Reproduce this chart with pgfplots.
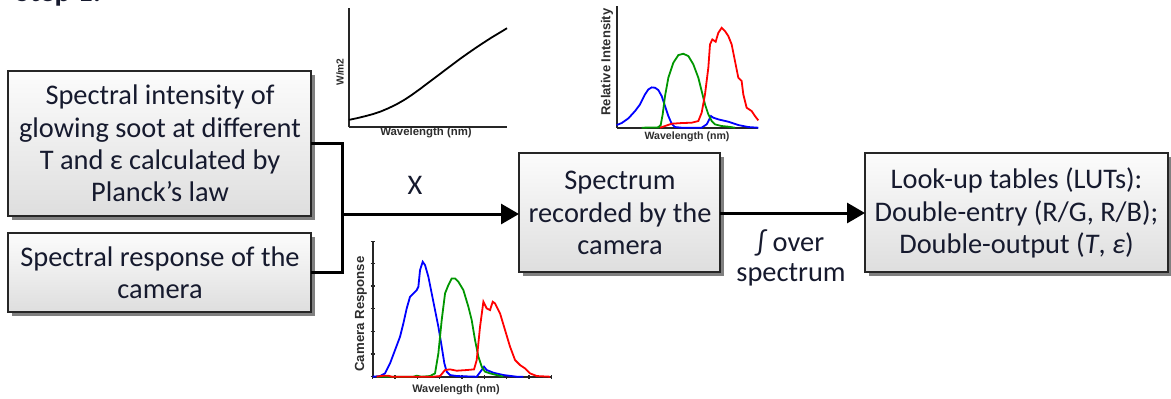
\documentclass[border=0pt]{standalone}
\usepackage{fontspec}
\setmainfont{Carlito}
\newfontfamily\plotfont{Liberation Sans}
\usepackage{pgfplots}
\pgfplotsset{compat=1.18}
\usetikzlibrary{arrows.meta}

\definecolor{txt}{RGB}{22,26,46}
\definecolor{boxtop}{RGB}{252,252,252}
\definecolor{boxbot}{RGB}{222,222,222}
\definecolor{shadowgray}{RGB}{128,128,128}
\definecolor{cblue}{RGB}{0,0,255}
\definecolor{cgreen}{RGB}{0,150,0}
\definecolor{cred}{RGB}{255,0,0}
\definecolor{lbl}{RGB}{45,45,45}

% box with a drop shadow and a light vertical gradient: x1,y1,x2,y2
\newcommand{\flowbox}[4]{%
  \fill[shadowgray] (#1+4,#2+4) rectangle (#3+4,#4+4);
  \shade[top color=boxtop,bottom color=boxbot] (#1,#2) rectangle (#3,#4);
  \draw[line width=0.8pt,black!85] (#1,#2) rectangle (#3,#4);
}

\pgfplotsset{
  mini/.style={
    scale only axis,
    anchor=south west,
    axis lines=left,
    axis line style={-,line width=0.9pt,black!85},
    xtick=\empty, ytick=\empty,
    clip=false,
  },
  curve/.style={line width=0.9pt,no marks},
}
\newcommand{\lblfont}[1]{\plotfont\bfseries\fontsize{#1}{#1}\selectfont}

\begin{document}
\begin{tikzpicture}
% drawing units: 1 unit = 0.5pt, y grows downwards
\begin{scope}[x=0.5pt,y=-0.5pt]
\useasboundingbox (0,0) rectangle (1171,398);

% heading, cut by the top edge
\node[anchor=base west,inner sep=0pt,text=txt,font=\fontsize{15}{17}\selectfont\bfseries] at (15,1) {Step 1:};

% axis labels
\node[font=\lblfont{5.7},text=lbl] at (426,133) {Wavelength (nm)};
\node[font=\lblfont{5.1},text=lbl,rotate=90] at (340,72) {W/m2};
\node[font=\lblfont{5.3},text=lbl] at (687,137) {Wavelength (nm)};
\node[font=\lblfont{6.5},text=lbl,rotate=90] at (607,62) {Relative Intensity};
\node[font=\lblfont{5.45},text=lbl] at (456,390) {Wavelength (nm)};
\node[font=\lblfont{6.6},text=lbl,rotate=90] at (361,314) {Camera Response};

% ---------- boxes ----------
\flowbox{8}{71}{311}{216}
\flowbox{8}{233}{311}{312}
\flowbox{519}{153}{720}{272}
\flowbox{865}{153}{1168}{272}

\tikzset{boxtext/.style={align=center,text=txt,font=\fontsize{14.2}{16.2}\selectfont,inner sep=0pt}}
\node[boxtext] at (160,143.5) {Spectral intensity of\\glowing soot at different\\T and ε calculated by\\Planck’s law};
\node[boxtext] at (160,272.5) {Spectral response of the\\camera};
\node[boxtext] at (620,213) {Spectrum\\recorded by the\\camera};
\node[boxtext] at (1016.5,213) {Look-up tables (LUTs):\\Double-entry (R/G, R/B);\\Double-output (\textit{T}, \textit{ε})};

% ---------- connectors ----------
\draw[line width=1.5pt,black] (311,143) -- (342,143) -- (342,272) -- (311,272);
\draw[line width=1.5pt,black,-{Triangle[length=9pt,width=10pt]}] (342,214) -- (519,214);
\draw[line width=1.5pt,black,-{Triangle[length=9pt,width=10pt]}] (720,213) -- (865,213);

\node[boxtext] at (415,185) {X};
\node[boxtext] at (790,243) {∫ over};
\node[boxtext] at (791,275) {spectrum};
\end{scope}

% ---------- blackbody-like spectrum ----------
\begin{axis}[mini, at={(174.5pt,-63.5pt)}, width=79pt, height=59.5pt,
  xmin=0, xmax=1, ymin=0, ymax=1]
\addplot[curve, black] coordinates {
(0,0.06)(0.05,0.074)(0.1,0.09)(0.15,0.108)(0.2,0.13)(0.25,0.158)(0.3,0.19)
(0.35,0.228)(0.4,0.272)(0.45,0.32)(0.5,0.37)(0.55,0.42)(0.6,0.47)(0.65,0.52)
(0.7,0.57)(0.75,0.617)(0.8,0.663)(0.85,0.707)(0.9,0.75)(0.95,0.79)(1.0,0.83)};
\end{axis}

% ---------- relative intensity ----------
\begin{axis}[mini, at={(308.35pt,-63.85pt)}, width=70.8pt, height=60.8pt,
  xmin=65, xmax=490, ymin=0, ymax=365]
\addplot[curve, cblue] coordinates {
(65,8)(80,14)(100,28)(120,50)(135,70)(150,100)(160,115)(170,121)(180,120)
(190,113)(200,95)(210,65)(220,35)(230,12)(240,2)(260,0)(320,0)(335,10)
(348,35)(355,30)(370,25)(400,18)(430,8)(460,2)(490,0)};
\addplot[curve, cgreen] coordinates {
(140,0)(190,1)(197,8)(203,40)(210,95)(220,150)(235,195)(250,218)(265,222)
(280,215)(295,190)(310,150)(320,110)(330,70)(340,40)(350,20)(360,10)
(380,5)(400,3)(420,0)};
\addplot[curve, cred] coordinates {
(195,0)(210,5)(230,12)(260,14)(290,15)(310,20)(320,45)(330,100)(340,180)
(345,250)(352,265)(362,258)(370,285)(380,300)(390,290)(400,275)(410,250)
(420,200)(430,150)(440,140)(445,100)(455,60)(470,50)(480,35)(490,22)};
\end{axis}

% ---------- camera response ----------
\begin{axis}[mini, at={(186.35pt,-188.35pt)}, width=89.5pt, height=67.8pt,
  xmin=68, xmax=605, ymin=0, ymax=407,
  xtick={68,135,202,269,336,403,470,537,605},
  ytick={0,68,136,204,272,340,407},
  xticklabels={}, yticklabels={},
  tick align=center, major tick length=2pt,
  tick style={line width=0.6pt,black!85}]
\addplot[curve, cblue] coordinates {
(68,0)(90,2)(105,10)(120,40)(135,80)(150,120)(160,160)(170,205)(180,240)
(190,250)(200,260)(205,270)(210,320)(218,345)(225,335)(235,300)(245,250)
(255,200)(265,150)(275,90)(283,40)(290,15)(300,5)(320,2)(380,0)(395,20)
(402,30)(410,20)(430,12)(460,5)(500,0)(520,0)};
\addplot[curve, cgreen] coordinates {
(80,0)(190,0)(200,3)(215,0)(240,2)(255,10)(265,70)(275,170)(285,250)
(295,275)(305,295)(315,295)(325,285)(340,260)(355,210)(365,170)(375,110)
(385,60)(395,30)(405,15)(420,10)(440,5)(460,0)};
\addplot[curve, cred] coordinates {
(80,0)(100,3)(115,3)(125,0)(250,0)(270,2)(285,20)(300,22)(320,18)(350,20)
(372,22)(380,50)(390,150)(400,225)(410,205)(420,200)(428,225)(435,220)
(450,190)(465,140)(480,90)(495,50)(510,35)(525,25)(540,10)(560,2)(600,0)};
\end{axis}
\end{tikzpicture}
\end{document}
